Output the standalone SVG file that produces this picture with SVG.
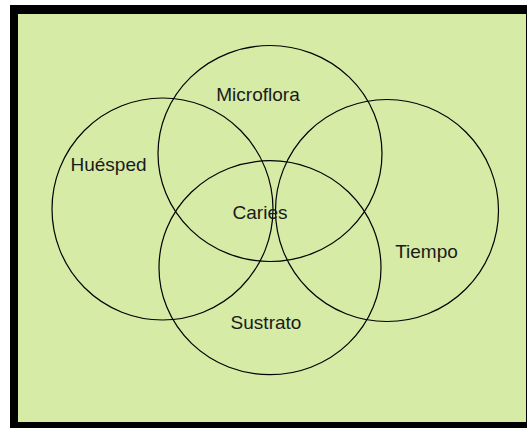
<svg xmlns="http://www.w3.org/2000/svg" width="527" height="428" viewBox="0 0 527 428">
<style>
.c{fill:none;stroke:#000;stroke-width:1.2}
.t{font-family:"Liberation Sans",Arial,sans-serif;font-size:19px;fill:#1a1a1a;text-anchor:middle}
</style>
<rect x="0" y="0" width="527" height="428" fill="#fff"/>
<rect x="10" y="5" width="517" height="423" fill="#000"/>
<rect x="18" y="14" width="508" height="408" fill="#d6eba6"/>
<g id="huesped"><ellipse class="c" cx="162.5" cy="209" rx="110.5" ry="111"/><text class="t" x="108.5" y="170.5">Huésped</text></g>
<g id="microflora"><ellipse class="c" cx="270" cy="153.5" rx="112" ry="108"/><text class="t" x="258" y="101">Microflora</text></g>
<g id="tiempo"><ellipse class="c" cx="387" cy="210.5" rx="111.5" ry="111"/><text class="t" x="426.5" y="258">Tiempo</text></g>
<g id="sustrato"><ellipse class="c" cx="270" cy="267.7" rx="111" ry="107"/><text class="t" x="266" y="329">Sustrato</text></g>
<g id="caries"><text class="t" x="260" y="218.5">Caries</text></g>
<g id="connectors"></g>
</svg>
